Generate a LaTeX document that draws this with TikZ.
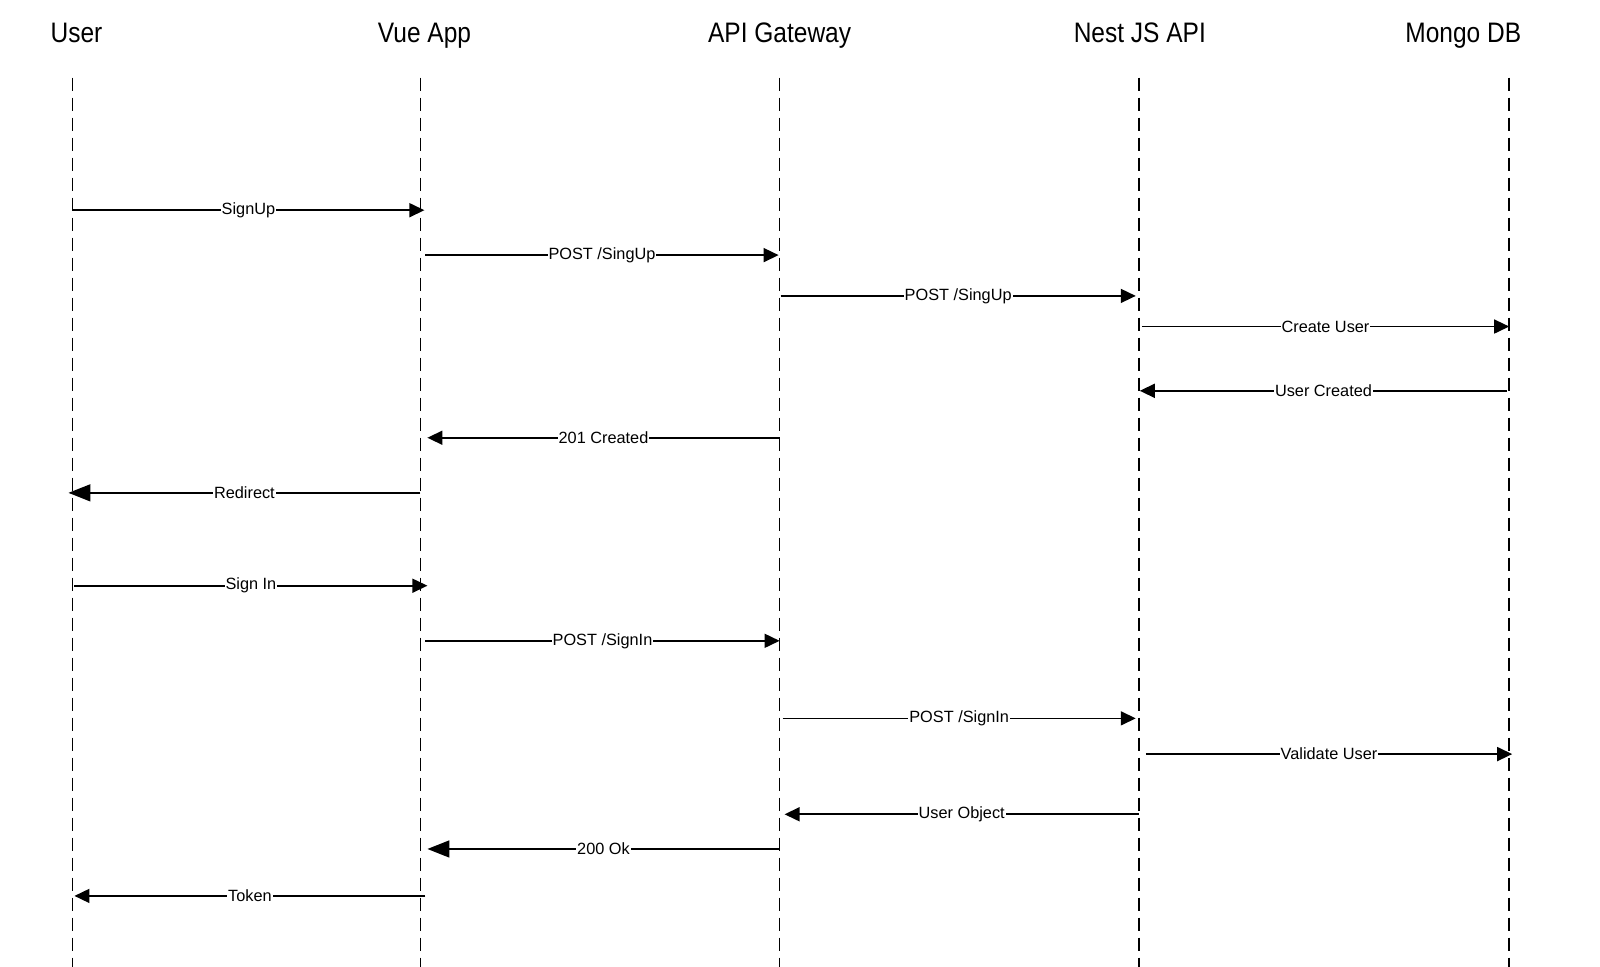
\documentclass[tikz,border=0pt]{standalone}
\usepackage{fontspec}
\setmainfont{Liberation Sans}
\usetikzlibrary{arrows.meta}
\tikzset{
  head/.style={font=\fontsize{24.5}{24.5}\selectfont, inner sep=0pt, anchor=base},
  lifeline/.style={line width=1.6pt, dash pattern=on 13pt off 7pt},
  msg/.style={line width=1.6pt, -{Triangle[length=15pt,width=14pt]}},
  bigmsg/.style={line width=1.6pt, -{Triangle[length=22pt,width=17pt]}},
  lbl/.style={fill=white, inner sep=1pt, font=\fontsize{16.3}{16.3}\selectfont}
}
\begin{document}
\begin{tikzpicture}[x=1.0204pt,y=-1.0204pt]
\useasboundingbox (0,0) rectangle (1568,946.7);
% headers
\node[head] (hUser) at (75,42) {\scalebox{1}[1.15]{User}};
\node[head] (hVue) at (416,42) {\scalebox{1}[1.15]{Vue App}};
\node[head] (hApi) at (764,42) {\scalebox{1}[1.15]{API Gateway}};
\node[head] (hNest) at (1117,42) {\scalebox{1}[1.15]{Nest JS API}};
\node[head] (hMongo) at (1434,42) {\scalebox{1}[1.15]{Mongo DB}};
% lifelines
\coordinate (lU) at (71,76);
\coordinate (lV) at (412,76);
\coordinate (lA) at (764,76);
\coordinate (lN) at (1116,76);
\coordinate (lM) at (1479,76);
\coordinate (bot) at (0,950);
\foreach \l in {lU,lV,lA,lN,lM} \draw[lifeline] (\l) -- (\l |- bot);
% message levels
\coordinate (y1) at (0,206);
\coordinate (y2) at (0,250);
\coordinate (y3) at (0,290);
\coordinate (y4) at (0,320);
\coordinate (y5) at (0,383);
\coordinate (y6) at (0,429);
\coordinate (y7) at (0,483);
\coordinate (y8) at (0,574);
\coordinate (y9) at (0,628);
\coordinate (y10) at (0,704);
\coordinate (y11) at (0,739);
\coordinate (y12) at (0,798);
\coordinate (y13) at (0,832);
\coordinate (y14) at (0,878);
% messages
\draw[msg] (lU |- y1) -- node[lbl]{SignUp} ([xshift=4pt]lV |- y1);
\draw[msg] ([xshift=5pt]lV |- y2) -- node[lbl]{POST /SingUp} ([xshift=-1pt]lA |- y2);
\draw[msg] ([xshift=1pt]lA |- y3) -- node[lbl]{POST /SingUp} ([xshift=-3pt]lN |- y3);
\draw[msg] ([xshift=3pt]lN |- y4) -- node[lbl]{Create User} (lM |- y4);
\draw[msg] ([xshift=-2pt]lM |- y5) -- node[lbl]{User Created} ([xshift=1pt]lN |- y5);
\draw[msg] (lA |- y6) -- node[lbl]{201 Created} ([xshift=7pt]lV |- y6);
\draw[bigmsg] (lV |- y7) -- node[lbl]{Redirect} ([xshift=-4pt]lU |- y7);
\draw[msg] ([xshift=2pt]lU |- y8) -- node[lbl]{Sign In} ([xshift=7pt]lV |- y8);
\draw[msg] ([xshift=5pt]lV |- y9) -- node[lbl]{POST /SignIn} (lA |- y9);
\draw[msg] ([xshift=3pt]lA |- y10) -- node[lbl]{POST /SignIn} ([xshift=-3pt]lN |- y10);
\draw[msg] ([xshift=7pt]lN |- y11) -- node[lbl]{Validate User} ([xshift=3pt]lM |- y11);
\draw[msg] (lN |- y12) -- node[lbl]{User Object} ([xshift=5pt]lA |- y12);
\draw[bigmsg] (lA |- y13) -- node[lbl]{200 Ok} ([xshift=7pt]lV |- y13);
\draw[msg] ([xshift=5pt]lV |- y14) -- node[lbl]{Token} ([xshift=2pt]lU |- y14);
\end{tikzpicture}
\end{document}
